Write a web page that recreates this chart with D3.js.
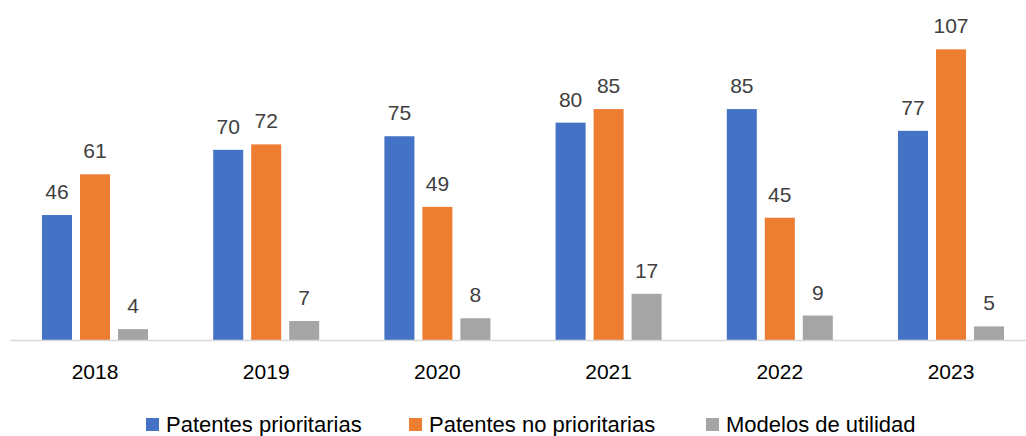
<!DOCTYPE html>
<html>
<head>
<meta charset="utf-8">
<script src="https://d3js.org/d3.v7.min.js"></script>
<style>
  body { margin: 0; background: #fff; }
  text { font-family: "Liberation Sans", Arial, sans-serif; }
</style>
</head>
<body>
<svg width="1026" height="436" id="mainsvg"></svg>
<script>
const years = ['2018', '2019', '2020', '2021', '2022', '2023'];
const series = ['Patentes prioritarias', 'Patentes no prioritarias', 'Modelos de utilidad'];
const prioritarias = [46, 70, 75, 80, 85, 77];
const noPrioritarias = [61, 72, 49, 85, 45, 107];
const modelos = [4, 7, 8, 17, 9, 5];
const colors = ['#4472C4', '#ED7D31', '#A5A5A5'];

const values = [prioritarias, noPrioritarias, modelos];

const svg = d3.select('#mainsvg');
const baseY = 340;

const x = d3.scaleBand().domain(years).range([9.4, 1036.6]);
const xInner = d3.scaleBand().domain(series).range([-53, 53]).paddingInner(0.21).paddingOuter(0);
const y = d3.scaleLinear().domain([0, 120]).range([baseY, baseY - 326]);

const g = svg.append('g');

years.forEach((yr, i) => {
  const cx = x(yr) + x.bandwidth() / 2;
  series.forEach((s, j) => {
    const v = values[j][i];
    g.append('rect')
      .attr('x', cx + xInner(s))
      .attr('y', y(v))
      .attr('width', xInner.bandwidth())
      .attr('height', baseY - y(v))
      .attr('fill', colors[j]);
    g.append('text')
      .attr('x', cx + xInner(s) + xInner.bandwidth() / 2)
      .attr('y', y(v) - 16)
      .attr('text-anchor', 'middle')
      .attr('font-size', 21)
      .attr('fill', '#404040')
      .text(v);
  });
});

const xAxis = d3.axisBottom(x).tickSize(0).tickPadding(24);
const ax = svg.append('g').attr('transform', `translate(0,${baseY})`).call(xAxis);
ax.select('.domain').attr('stroke', '#D9D9D9').attr('stroke-width', 1.5);
ax.selectAll('text').attr('font-size', 21).attr('fill', '#000').style('font-family', '"Liberation Sans", Arial, sans-serif');

// legend
const legendX = [146, 409, 706];
const legend = svg.append('g').selectAll('g').data(series).enter().append('g')
  .attr('transform', (d, i) => `translate(${legendX[i]},418)`);
legend.append('rect').attr('width', 13).attr('height', 13).attr('fill', (d, i) => colors[i]);
legend.append('text').attr('x', 20).attr('y', 14).attr('font-size', 22).attr('fill', '#000').text(d => d);
</script>
</body>
</html>
